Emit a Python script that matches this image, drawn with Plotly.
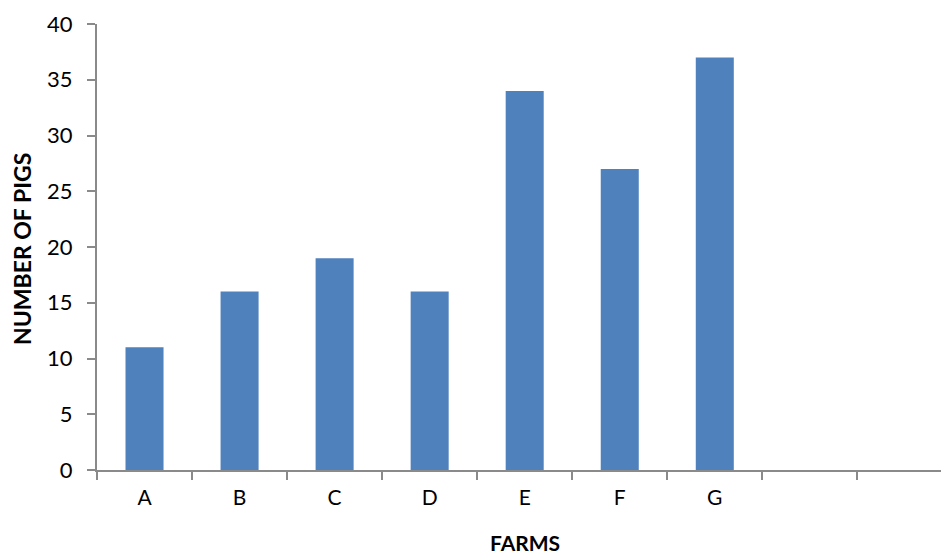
import plotly.graph_objects as go

farms = ["A", "B", "C", "D", "E", "F", "G"]
pigs = [11, 16, 19, 16, 34, 27, 37]
extra_slots = [" ", "  "]  # two empty category slots on the axis
y_ticks = [0, 5, 10, 15, 20, 25, 30, 35, 40]

W, H = 941, 555
L, R, T, B = 97, 0, 24, 85
pw = W - L - R
ph = H - T - B

font = "Lato, 'Open Sans', sans-serif"
axis_col = "#8a8a8a"

fig = go.Figure(go.Bar(
    x=farms, y=pigs,
    marker=dict(color="#4F81BD", line=dict(width=0)),
    width=0.4,
))

fig.update_layout(
    width=W, height=H,
    margin=dict(l=L, r=R, t=T, b=B, pad=0, autoexpand=False),
    paper_bgcolor="white", plot_bgcolor="white",
    showlegend=False,
    font=dict(family=font, size=22, color="#000"),
    xaxis=dict(
        type="category",
        categoryorder="array",
        categoryarray=farms + extra_slots,
        range=[-0.5, 8.38],
        tickson="boundaries",
        ticks="outside", ticklen=8, tickwidth=2, tickcolor=axis_col,
        showline=True, linecolor=axis_col, linewidth=2,
        showgrid=False, zeroline=False,
        tickfont=dict(size=21, family=font),
        ticklabelstandoff=8,
        fixedrange=True,
        automargin=False,
    ),
    yaxis=dict(
        range=[0, 40],
        tickvals=y_ticks,
        ticks="outside", ticklen=8, tickwidth=2, tickcolor=axis_col,
        showline=True, linecolor=axis_col, linewidth=2,
        showgrid=False, zeroline=False,
        tickfont=dict(size=22, family=font),
        ticklabelstandoff=10,
        fixedrange=True,
        automargin=False,
    ),
    annotations=[
        dict(text="<b>FARMS</b>", xref="x", yref="paper", x=4, y=(470 - 542) / ph,
             xanchor="center", yanchor="middle", showarrow=False,
             font=dict(size=21, family=font)),
        dict(text="<b>NUMBER OF PIGS</b>", xref="paper", yref="paper",
             x=(22 - L) / pw, y=(470 - 249) / ph, textangle=-90,
             xanchor="center", yanchor="middle", showarrow=False,
             font=dict(size=23, family=font)),
    ],
)

fig.write_html("out.html", config={"displayModeBar": False},
               post_script="document.body.style.margin='0px';document.body.style.overflow='hidden';")
